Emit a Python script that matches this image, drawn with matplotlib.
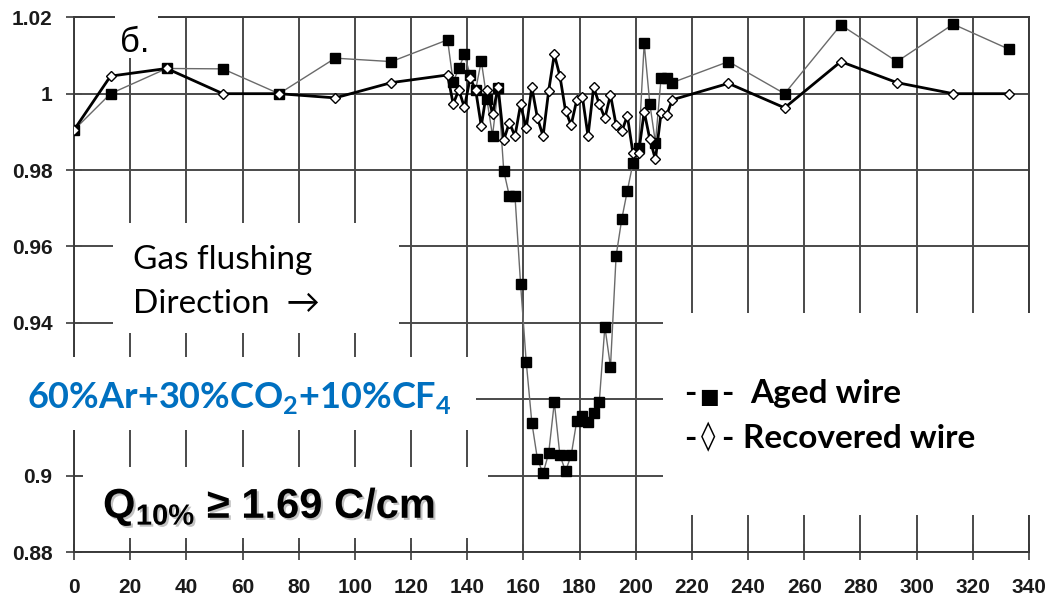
import matplotlib
matplotlib.use("Agg")
import matplotlib.pyplot as plt
from matplotlib.patches import Rectangle
from matplotlib.transforms import Affine2D
import matplotlib.patheffects as pe

# Position along the wire (mm)
position = [0, 13, 33, 53, 73, 93, 113,
            133, 135, 137, 139, 141, 143, 145, 147, 149, 151,
            153, 155, 157, 159, 161, 163, 165, 167, 169, 171,
            173, 175, 177, 179, 181, 183, 185, 187, 189, 191,
            193, 195, 197, 199, 201, 203, 205, 207, 209, 211, 213,
            233, 253, 273, 293, 313, 333]

# Normalised gas gain, aged wire
aged = [0.9905, 1.0000, 1.0066, 1.0065, 1.0000, 1.0093, 1.0084,
        1.0141, 1.0031, 1.0066, 1.0103, 1.0049, 1.0010, 1.0086, 0.9985, 0.9890, 1.0014,
        0.9798, 0.9732, 0.9732, 0.9501, 0.9298, 0.9139, 0.9043, 0.9006, 0.9059, 0.9192,
        0.9053, 0.9012, 0.9053, 0.9144, 0.9157, 0.9141, 0.9163, 0.9192, 0.9390, 0.9285,
        0.9575, 0.9671, 0.9746, 0.9818, 0.9857, 1.0132, 0.9974, 0.9872, 1.0040, 1.0040, 1.0029,
        1.0084, 1.0000, 1.0180, 1.0084, 1.0182, 1.0116]

# Normalised gas gain, recovered wire
recovered = [0.9905, 1.0046, 1.0066, 1.0000, 1.0000, 0.9989, 1.0029,
             1.0049, 0.9973, 1.0010, 0.9964, 1.0040, 1.0010, 0.9915, 1.0010, 0.9947, 1.0017,
             0.9879, 0.9924, 0.9889, 0.9972, 0.9909, 1.0017, 0.9936, 0.9889, 1.0008, 1.0103,
             1.0046, 0.9955, 0.9918, 0.9984, 0.9992, 0.9889, 1.0017, 0.9973, 0.9936, 0.9997,
             0.9918, 0.9901, 0.9942, 0.9844, 0.9844, 0.9953, 0.9881, 0.9828, 0.9949, 0.9944, 0.9984,
             1.0027, 0.9963, 1.0084, 1.0029, 1.0000, 1.0000]

x_ticks = [0, 20, 40, 60, 80, 100, 120, 140, 160, 180, 200, 220, 240, 260, 280, 300, 320, 340]
y_ticks = [0.88, 0.90, 0.92, 0.94, 0.96, 0.98, 1.00, 1.02]
# the 0.92 label sits under the gas-mixture caption
y_tick_labels = ["0.88", "0.9", "", "0.94", "0.96", "0.98", "1", "1.02"]

plt.rcParams["font.family"] = "Liberation Sans"
plt.rcParams["font.weight"] = "bold"
plt.rcParams["mathtext.fontset"] = "custom"
plt.rcParams["mathtext.bf"] = "Liberation Sans:bold"
plt.rcParams["mathtext.sf"] = "Lato:bold"
plt.rcParams["mathtext.rm"] = "Liberation Sans"

W, H = 1048, 596
fig = plt.figure(figsize=(W / 100, H / 100), dpi=100)
fig.patch.set_facecolor("white")
ax = fig.add_axes([74 / W, 1 - 552 / H, (1029 - 74) / W, (552 - 17.3) / H])

grid_c = "#4a4a4a"
ax.set_xlim(0, 340)
ax.set_ylim(0.88, 1.02)
ax.set_xticks(x_ticks)
ax.set_yticks(y_ticks)
ax.set_yticklabels(y_tick_labels)
ax.grid(True, color=grid_c, lw=1.4)
ax.set_axisbelow(True)
for s in ax.spines.values():
    s.set_color("#3a3a3a")
    s.set_linewidth(1.4)
ax.tick_params(axis="both", direction="inout", length=11, width=1.3, color=grid_c,
               labelsize=15, labelcolor="#1a1a1a")
ax.tick_params(axis="x", pad=13)
ax.tick_params(axis="y", pad=10)

ax.plot(position, aged, color="#6a6a6a", lw=1.0, marker="s", ms=6.5,
        mfc="black", mec="black", zorder=3)
ax.plot(position, recovered, color="black", lw=2.0, marker="D", ms=5.4,
        mfc="white", mec="black", mew=1.0, zorder=4)

# pixel-space transform (origin top-left)
px = Affine2D().scale(1 / W, -1 / H).translate(0, 1) + fig.transFigure


def blank(x0, y0, x1, y1):
    fig.add_artist(Rectangle((x0, y0), x1 - x0, y1 - y0, transform=px,
                             facecolor="white", edgecolor="none", zorder=5))


blank(115, 0, 158, 58)
blank(113, 223, 399, 333)
blank(0, 357, 476, 430)
blank(83, 467, 488, 538)
blank(663, 313, 1032, 515)

fig.text(120, 52, "б.", transform=px, fontsize=25, family="Liberation Sans",
         fontweight="normal", va="baseline", zorder=6)
fig.text(133, 269, "Gas flushing", transform=px, fontsize=24,
         family=["Lato", "DejaVu Sans"], fontweight="normal", va="baseline", zorder=6)
fig.text(133, 313, "Direction  \u2192", transform=px, fontsize=24,
         family=["Lato", "DejaVu Sans"], fontweight="normal", va="baseline", zorder=6)
fig.text(27, 408, r"60%Ar+30%CO$_{\mathsf{2}}$+10%CF$_{\mathsf{4}}$", transform=px,
         fontsize=26, family="Lato", fontweight="bold", color="#0070c0",
         va="baseline", zorder=6)
fig.text(103, 518, r"Q$_{\mathbf{10\%}}$ ≥ 1.69 C/cm", transform=px, fontsize=30,
         family="Liberation Sans", fontweight="bold", color="black", va="baseline",
         zorder=6,
         path_effects=[pe.withSimplePatchShadow(offset=(1.5, -1.5),
                                                shadow_rgbFace="#888888", alpha=0.5)])

# hand-made key
key_font = dict(transform=px, fontsize=24, family=["Lato", "DejaVu Sans"],
                fontweight="bold", zorder=6)
fig.text(684, 403, "-", va="baseline", **key_font)
fig.text(709, 397, "\u25a0", transform=px, fontsize=15, family="DejaVu Sans",
         ha="center", va="center", zorder=6)
fig.text(721, 403, "-", va="baseline", **key_font)
fig.text(750, 403, "Aged wire", va="baseline", **key_font)
fig.text(684, 448, "-", va="baseline", **key_font)
fig.text(708, 437, "\u25ca", transform=px, fontsize=21, family="DejaVu Sans",
         fontweight="normal", ha="center", va="center", zorder=6)
fig.text(721, 448, "-", va="baseline", **key_font)
fig.text(743, 448, "Recovered wire", va="baseline", **key_font)

fig.savefig("out.png", dpi=100, facecolor="white")
